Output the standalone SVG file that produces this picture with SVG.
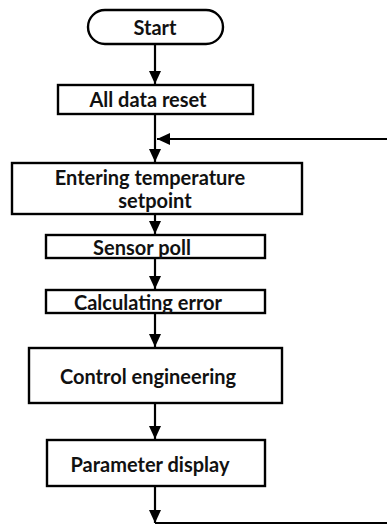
<svg xmlns="http://www.w3.org/2000/svg" width="387" height="526" viewBox="0 0 387 526">
  <style>
    .box { fill: #fff; stroke: #000; stroke-width: 2.4; }
    .lbl { font-family: Lato, "Open Sans", sans-serif; font-weight: 700; font-size: 20px; fill: #111; text-anchor: middle; dominant-baseline: central; }
    .wire { fill: none; stroke: #000; stroke-width: 2.2; }
  </style>
  <defs>
    <marker id="arrow" markerUnits="userSpaceOnUse" markerWidth="14" markerHeight="14" viewBox="0 0 14 14" refX="13" refY="7" orient="auto">
      <path d="M0,1 L13,7 L0,13 Z" fill="#000"/>
    </marker>
  </defs>
  <rect width="387" height="526" fill="#fff"/>

  <g id="connectors">
    <line class="wire" x1="155" y1="44" x2="155" y2="84" marker-end="url(#arrow)"/>
    <line class="wire" x1="155" y1="114" x2="155" y2="162" marker-end="url(#arrow)"/>
    <line class="wire" x1="387" y1="139" x2="157" y2="139" marker-end="url(#arrow)"/>
    <line class="wire" x1="155" y1="214" x2="155" y2="234" marker-end="url(#arrow)"/>
    <line class="wire" x1="155" y1="258" x2="155" y2="289" marker-end="url(#arrow)"/>
    <line class="wire" x1="155" y1="313" x2="155" y2="347" marker-end="url(#arrow)"/>
    <line class="wire" x1="155" y1="403" x2="155" y2="439" marker-end="url(#arrow)"/>
    <line class="wire" x1="155" y1="486" x2="155" y2="523" marker-end="url(#arrow)"/>
    <line class="wire" x1="155" y1="523" x2="387" y2="523"/>
  </g>

  <g id="start">
    <rect class="box" x="88" y="10" width="135" height="34" rx="17" ry="17"/>
    <text class="lbl" x="155" y="26.5">Start</text>
  </g>
  <g id="reset">
    <rect class="box" x="58" y="85" width="195" height="29"/>
    <text class="lbl" x="148" y="98.5">All data reset</text>
  </g>
  <g id="setpoint">
    <rect class="box" x="12" y="163" width="290" height="51"/>
    <text class="lbl" x="150" y="176.5">Entering temperature</text>
    <text class="lbl" x="155" y="199.5">setpoint</text>
  </g>
  <g id="sensor">
    <rect class="box" x="46" y="235" width="219" height="23"/>
    <text class="lbl" x="142" y="246.5">Sensor poll</text>
  </g>
  <g id="error">
    <rect class="box" x="46" y="290" width="219" height="23"/>
    <text class="lbl" x="148" y="301.5">Calculating error</text>
  </g>
  <g id="control">
    <rect class="box" x="29" y="348" width="253" height="55"/>
    <text class="lbl" x="148" y="375.5">Control engineering</text>
  </g>
  <g id="display">
    <rect class="box" x="47" y="440" width="218" height="46"/>
    <text class="lbl" x="150" y="463.5">Parameter display</text>
  </g>
</svg>
